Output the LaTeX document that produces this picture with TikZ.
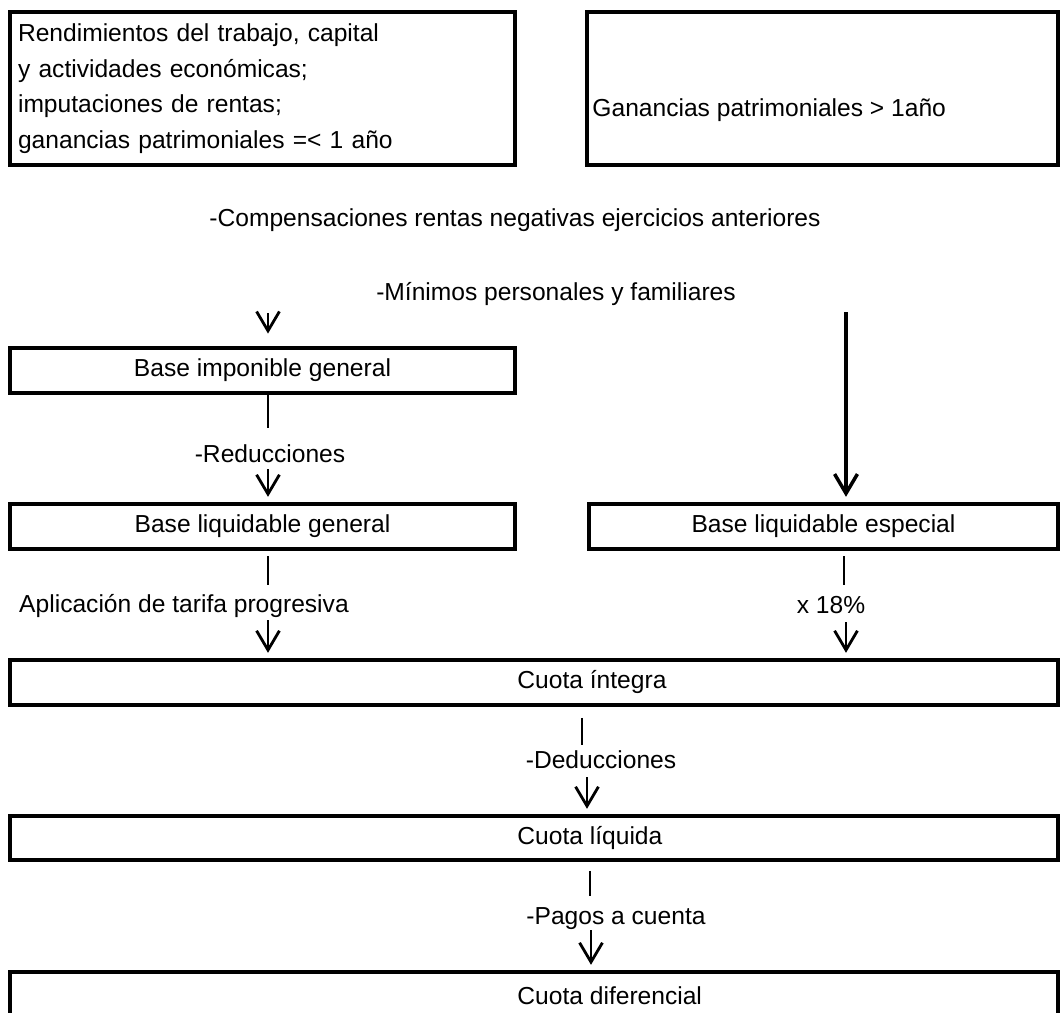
\documentclass[tikz,border=0pt]{standalone}
\usepackage{fontspec}
\setmainfont{Liberation Sans}
\usetikzlibrary{arrows.meta}

\begin{document}
\begin{tikzpicture}[x=0.02cm, y=-0.02cm, font=\fontsize{14}{20.2}\selectfont,
      >={Straight Barb[length=11pt, width=13pt]},
      box/.style={draw, line width=2.2pt, inner sep=4pt, minimum height=0.9cm},
      txt/.style={inner sep=0pt, text height=10pt, text depth=3pt},
      intxt/.style={txt, anchor=west},
      ln/.style={line width=1.1pt},
      arr/.style={->, line width=1.6pt, shorten >=3pt}]
    \useasboundingbox (0,0) rectangle (1061,1012);
    \clip (0,0) rectangle (1061,1012);
    % sources of income
    \node[box, minimum width=10.1cm, minimum height=3.06cm, text width=9.78cm, align=left] (rend) at (262.5,88.5)
      {Rendimientos del trabajo, capital\\y actividades económicas;\\imputaciones de rentas;\\ganancias patrimoniales =< 1 año};
    \node[box, minimum width=9.42cm, minimum height=3.06cm] (gan) at (822.5,88.5) {};
    \node[intxt] (gan-t) at ([xshift=0.14cm, yshift=-0.43cm]gan.west) {Ganancias patrimoniales > 1año};

    \node[txt] (comp) at (515,220) {-Compensaciones rentas negativas ejercicios anteriores};
    \node[txt] (mini) at (556,294) {-Mínimos personales y familiares};

    % bases
    \node[box, minimum width=10.1cm] (big) at (262.5,370.5) {Base imponible general};
    \node[box, minimum width=10.1cm] (blg) at (262.5,526.5) {Base liquidable general};
    \node[box, minimum width=9.38cm] (ble) at (823.5,526.5) {Base liquidable especial};

    % cuotas
    \node[box, minimum width=20.96cm] (ci) at (534,682.5) {};
    \node[box, minimum width=20.96cm, minimum height=0.88cm] (cl) at (534,838) {};
    \node[box, minimum width=20.96cm] (cd) at (534,994.5) {};
    \node[intxt] (ci-t) at ([xshift=10.18cm]ci.west) {Cuota íntegra};
    \node[intxt] (cl-t) at ([xshift=10.18cm]cl.west) {Cuota líquida};
    \node[intxt] (cd-t) at ([xshift=10.18cm, yshift=-0.07cm]cd.west) {Cuota diferencial};

    % steps
    \node[txt] (red) at (270,456) {-Reducciones};
    \node[txt] (tar) at (184,606) {Aplicación de tarifa progresiva};
    \node[txt] (pct) at (831,607) {x 18\%};
    \node[txt] (ded) at (601,762) {-Deducciones};
    \node[txt] (pag) at (616,918) {-Pagos a cuenta};

    \coordinate (in-g) at (268,313);
    \coordinate (in-e) at (846,312);
    \coordinate (red-a) at (268,428);
    \coordinate (red-b) at (268,469);
    \coordinate (tar-a) at (268,585);
    \coordinate (tar-b) at (268,620);
    \coordinate (pct-a) at (844,585);
    \coordinate (pct-b) at (846,622);
    \coordinate (ded-a) at (582,745);
    \coordinate (ded-b) at (587,777);
    \coordinate (pag-a) at (590,896);
    \coordinate (pag-b) at (591,930);

    \draw[arr, shorten >=0.25cm] (in-g) -- (big.north -| in-g);
    \draw[arr, line width=2pt] (in-e) -- (ble.north -| in-e);
    \draw[ln] (big.south -| red-a) -- (red-a);
    \draw[arr] (red-b) -- (blg.north -| red-b);
    \draw[ln, shorten <=3pt] (blg.south -| tar-a) -- (tar-a);
    \draw[arr] (tar-b) -- (ci.north -| tar-b);
    \draw[ln, shorten <=3pt] (ble.south -| pct-a) -- (pct-a);
    \draw[arr] (pct-b) -- (ci.north -| pct-b);
    \draw[ln, shorten <=0.22cm] (ci.south -| ded-a) -- (ded-a);
    \draw[arr] (ded-b) -- (cl.north -| ded-b);
    \draw[ln, shorten <=0.18cm] (cl.south -| pag-a) -- (pag-a);
    \draw[arr] (pag-b) -- (cd.north -| pag-b);
\end{tikzpicture}
\end{document}
